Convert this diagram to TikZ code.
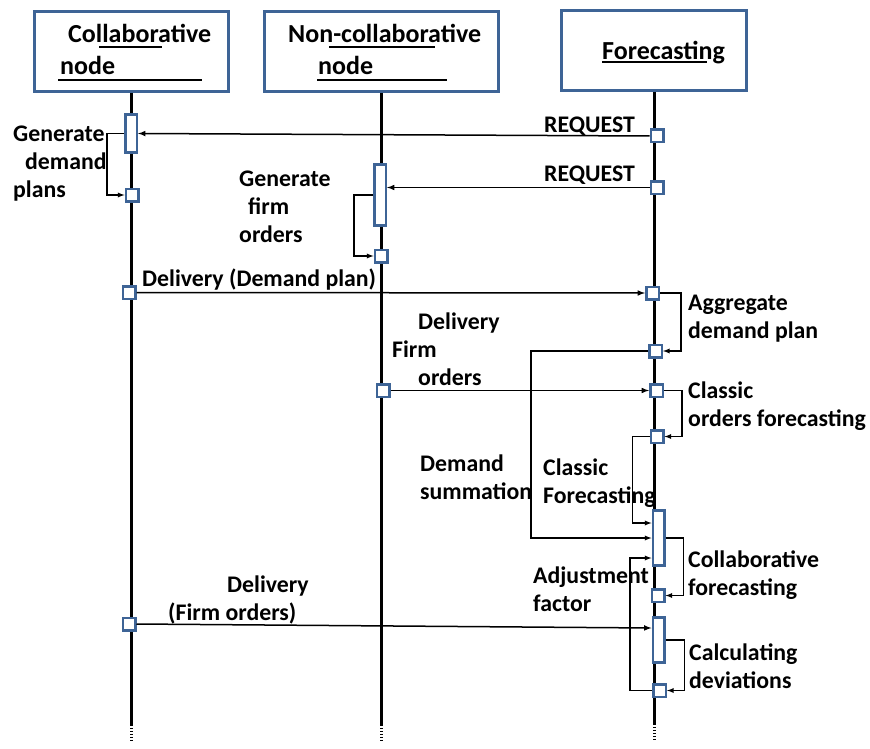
\documentclass[tikz,border=0pt]{standalone}
\usepackage{fontspec}
\setmainfont{Carlito}
\definecolor{boxblue}{RGB}{62,100,150}
\begin{document}
\begin{tikzpicture}[x=1pt,y=-1pt,>=latex,
	lifeline/.style={line width=3pt},
	head/.style={draw=boxblue,line width=2.7pt,fill=white,inner sep=0,minimum height=80pt},
	act/.style={draw=boxblue,line width=2.5pt,fill=white,inner sep=0,minimum width=11.5pt},
	sq/.style={act,minimum height=12.5pt,minimum width=12.5pt},
	msg/.style={->,line width=1.5pt},
	selfmsg/.style={->,line width=1.3pt},
	lbl/.style={font=\bfseries\fontsize{23.8}{28}\selectfont,align=left,inner sep=0,anchor=base west},
	headlbl/.style={lbl,font=\bfseries\fontsize{26}{32}\selectfont}]
	\useasboundingbox (0,0) rectangle (870,749);
	\node[head,minimum width=194pt] (hcol) at (131.5,51.5) {};
	\node[head,minimum width=234pt] (hnon) at (381.5,51.5) {};
	\node[head,minimum width=185pt] (hfor) at (654,50.5) {};
	\foreach \h in {hcol,hnon,hfor} {
		\draw[lifeline] (\h.south) -- ++(0,632) coordinate (\h-end);
		\draw[lifeline,dash pattern=on 1.5pt off 1.5pt] (\h-end) -- ++(0,18);
	}
	\node[headlbl] (tcol) at (60,75) {\hspace*{8pt}Collaborative\\node};
	\node[headlbl] (tnon) at (288,75) {Non-collaborative\\\hspace*{30pt}node};
	\node[headlbl] (tfor) at (602,60) {Forecasting};
	\foreach \a/\b/\y in {99/162/47,58/202/80,329/435/47,317/447/80,602/707/62}
		\draw[line width=2pt] (\a,\y) -- (\b,\y);
	\node[act,minimum height=38pt] (cbar) at (131,133.5) {};
	\node[sq] (csq1) at (132,195) {};
	\node[sq] (csq2) at (129,292.5) {};
	\node[sq] (csq3) at (129,624) {};
	\node[act,minimum height=61pt] (nbar) at (380,195) {};
	\node[sq] (nsq1) at (381,256) {};
	\node[sq] (nsq2) at (383,390.5) {};
	\foreach \n/\x/\y in {fsq1/657/136,fsq2/657/187.5,fsq3/652.5/293,fsq4/655.5/351,fsq5/656.5/390.5,fsq6/657/436.5,fsq7/658/595.5,fsq8/659.5/690.5}
		\node[sq] (\n) at (\x,\y) {};
	\node[act,minimum height=55pt] (fbar1) at (658.5,538) {};
	\node[act,minimum height=45pt] (fbar2) at (658.5,640) {};
	\draw[msg] (fsq1.west) -- (cbar.east);
	\draw[msg] (fsq2.west) -- (nbar.east |- fsq2.west);
	\draw[msg] (csq2.east) -- (fsq3.west);
	\draw[msg] (nsq2.east) -- (fsq5.west);
	\draw[msg] (csq3.east) -- ([yshift=12pt]fbar2.west);
	\draw[selfmsg] (cbar.west) -- ++(-17,0) |- (csq1.west);
	\draw[selfmsg] (nbar.west) -- ++(-19,0) |- (nsq1.west);
	\draw[selfmsg] (fsq3.east) -- ++(21,0) |- (fsq4.east);
	\draw[selfmsg] (fsq5.east) -- ++(18,0) |- (fsq6.east);
	\draw[selfmsg] (fbar1.east) -- ++(18,0) |- (fsq7.east);
	\draw[selfmsg] (fbar2.east) -- ++(19,0) |- (fsq8.east);
	\draw[selfmsg] (fsq4.west) -- ++(-117,0) |- (fbar1.west);
	\draw[selfmsg] (fsq6.west) -- ++(-17,0) |- ([yshift=15pt]fbar1.west);
	\draw[selfmsg] (fsq8.west) -- ++(-22,0) |- ([yshift=-20pt]fbar1.west);
	\node[lbl,anchor=base east] (lreq1) at (635,132) {REQUEST};
	\node[lbl,anchor=base east] (lreq2) at (635,182) {REQUEST};
	\node[lbl] (lgen1) at (13,197) {Generate\\\hspace*{12pt}demand\\plans};
	\node[lbl] (lgen2) at (239,242) {Generate\\\hspace*{9pt}firm\\orders};
	\node[lbl] (ldel1) at (142,286) {Delivery (Demand plan)};
	\node[lbl] (lagg) at (688,338) {Aggregate\\demand plan};
	\node[lbl] (ldel2) at (392,385) {\hspace*{26pt}Delivery\\Firm\\\hspace*{26pt}orders};
	\node[lbl] (lcls) at (688,426) {Classic\\orders forecasting};
	\node[lbl] (lsum) at (420,499) {Demand\\summation};
	\node[lbl] (lclf) at (543,503) {Classic\\Forecasting};
	\node[lbl] (lcol) at (688,595) {Collaborative\\forecasting};
	\node[lbl] (ladj) at (533,611) {Adjustment\\factor};
	\node[lbl] (ldel3) at (168,620) {\hspace*{59pt}Delivery\\(Firm orders)};
	\node[lbl] (lcalc) at (689,688) {Calculating\\deviations};
\end{tikzpicture}
\end{document}
